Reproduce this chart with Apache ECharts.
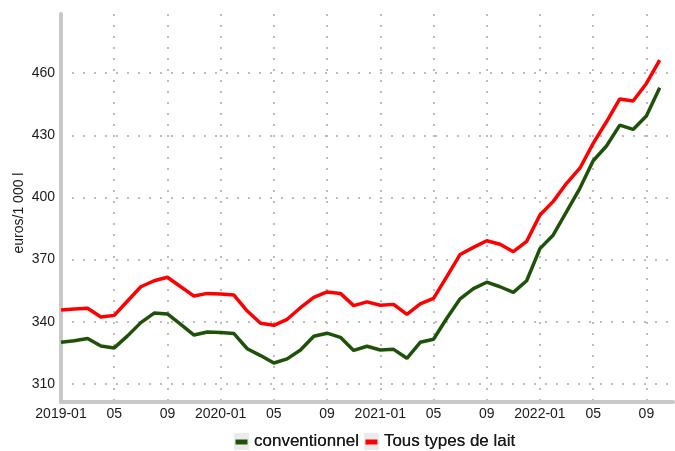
<!DOCTYPE html>
<html>
<head>
<meta charset="utf-8">
<script src="https://cdn.jsdelivr.net/npm/echarts@6/dist/echarts.min.js"></script>
<style>
  html, body { margin: 0; padding: 0; background: #fff; }
  #chart { width: 675px; height: 451px; }
</style>
</head>
<body>
<div id="chart"></div>
<script>
  // mois 2019-01 .. 2022-11 (le dernier mois sans valeur)
  const months = []
  for (let y = 2019; y <= 2022; y++) {
    for (let m = 1; m <= 12; m++) {
      if (y === 2022 && m > 11) break
      months.push(y + '-' + String(m).padStart(2, '0'))
    }
  }

  const yTicks = [310, 340, 370, 400, 430, 460]
  const seriesNames = ['conventionnel', 'Tous types de lait']

  const conventionnel = [
    330.1, 330.9, 331.9, 328.3, 327.4, 333.2, 339.6, 344.2, 343.8, 338.8, 333.6, 335.1,
    334.8, 334.3, 327.0, 323.7, 320.1, 322.1, 326.4, 333.0, 334.5, 332.5, 326.2, 328.2,
    326.4, 326.7, 322.4, 330.1, 331.6, 341.7, 351.1, 356.0, 359.1, 356.9, 354.2, 359.8,
    375.3, 381.9, 393.1, 404.4, 417.7, 424.8, 434.9, 432.8, 439.3, 452.9
  ]
  const tousTypes = [
    345.7, 346.2, 346.5, 342.3, 343.1, 350.0, 356.9, 359.8, 361.5, 356.9, 352.4, 353.7,
    353.4, 352.9, 345.2, 339.3, 338.3, 341.2, 346.8, 351.8, 354.4, 353.7, 347.8, 349.6,
    348.0, 348.4, 343.6, 348.6, 351.3, 361.8, 372.5, 375.9, 379.1, 377.4, 373.8, 378.8,
    391.5, 398.1, 406.8, 414.1, 426.1, 436.5, 447.5, 446.5, 455.0, 466.3
  ]

  const gridLine = { show: true, lineStyle: { color: '#bdbdbd', width: 2, type: [2, 9] } }

  // deux légendes superposées : fond gris puis trait coloré
  const legendBase = {
    left: 234,
    top: 433,
    padding: 0,
    itemWidth: 15,
    itemHeight: 17,
    itemGap: 5,
    selectedMode: false,
    textStyle: { fontSize: 17, color: '#1a1a1a' },
    data: seriesNames
  }

  const chart = echarts.init(document.getElementById('chart'))
  chart.setOption({
    animation: false,
    textStyle: { fontFamily: 'Liberation Sans, Arial, sans-serif' },
    grid: { left: 61, right: 2, top: 14, bottom: 49, containLabel: false, outerBoundsMode: 'none' },
    legend: [
      Object.assign({}, legendBase, {
        icon: 'rect',
        itemStyle: { color: '#ebebeb' }
      }),
      Object.assign({}, legendBase, {
        icon: 'path://M0,0M15,17M1.5,6.5h12v5h-12z'
      })
    ],
    xAxis: {
      type: 'category',
      data: months,
      boundaryGap: false,
      axisLine: { lineStyle: { color: '#c8c8c8', width: 4 } },
      axisTick: { show: false },
      axisLabel: {
        interval: 3,
        fontSize: 14,
        color: '#1a1a1a',
        margin: 5,
        formatter: function (v) {
          const p = v.split('-')
          return p[1] === '01' ? v : p[1]
        }
      },
      splitLine: Object.assign({ interval: 3 }, gridLine)
    },
    yAxis: {
      type: 'value',
      min: 301.3,
      max: 488.5,
      name: 'euros/1 000 l',
      nameLocation: 'middle',
      nameGap: 35,
      nameMoveOverlap: false,
      nameRotate: 90,
      nameTextStyle: { fontSize: 14, color: '#1a1a1a', padding: [0, 10, 0, 0] },
      axisLine: { show: true, lineStyle: { color: '#c8c8c8', width: 4 } },
      axisTick: { show: false, customValues: yTicks },
      axisLabel: { fontSize: 14, color: '#1a1a1a', margin: 6, customValues: yTicks },
      splitLine: gridLine
    },
    series: [
      {
        name: seriesNames[0],
        type: 'line',
        data: conventionnel,
        symbol: 'none',
        color: '#1e5209',
        lineStyle: { width: 3.5, color: '#1e5209' }
      },
      {
        name: seriesNames[1],
        type: 'line',
        data: tousTypes,
        symbol: 'none',
        color: '#ff0000',
        lineStyle: { width: 3.5, color: '#ff0000' }
      }
    ]
  })
</script>
</body>
</html>
